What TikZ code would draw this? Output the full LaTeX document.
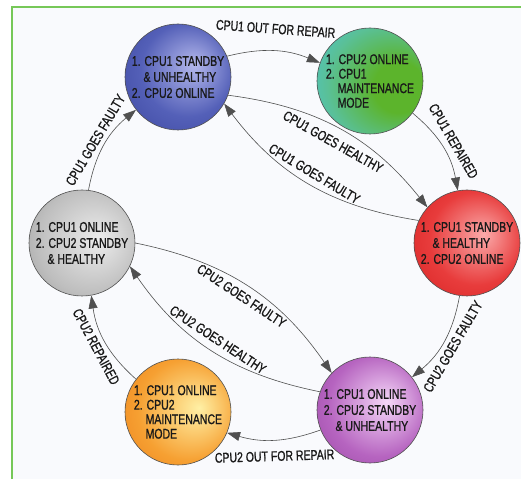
\documentclass[tikz,border=0pt]{standalone}
\usepackage{fontspec}
\setmainfont{Liberation Sans}[FakeStretch=0.75,FakeBold=1]
\usetikzlibrary{arrows.meta,shadings}

\definecolor{framegreen}{RGB}{118,200,88}
\definecolor{paper}{RGB}{249,250,253}
\definecolor{edgegray}{RGB}{80,80,80}
\definecolor{bluein}{RGB}{180,184,236}
\definecolor{bluemid}{RGB}{84,96,184}
\definecolor{blueout}{RGB}{46,56,146}
\definecolor{tealin}{RGB}{92,180,44}
\definecolor{tealmid}{RGB}{90,192,150}
\definecolor{tealout}{RGB}{70,198,232}
\definecolor{redin}{RGB}{250,170,170}
\definecolor{redmid}{RGB}{232,60,60}
\definecolor{redout}{RGB}{205,18,18}
\definecolor{purplein}{RGB}{245,215,248}
\definecolor{purplemid}{RGB}{182,100,192}
\definecolor{purpleout}{RGB}{135,52,146}
\definecolor{orangein}{RGB}{255,240,165}
\definecolor{orangemid}{RGB}{246,160,50}
\definecolor{orangeout}{RGB}{232,110,15}
\definecolor{grayin}{RGB}{236,236,236}
\definecolor{graymid}{RGB}{190,190,190}
\definecolor{grayout}{RGB}{128,128,128}

\pgfdeclareradialshading{blueball}{\pgfpoint{8bp}{6bp}}{color(0bp)=(bluein); color(22bp)=(bluemid); color(50bp)=(blueout)}
\pgfdeclareradialshading{tealball}{\pgfpoint{18bp}{-4bp}}{color(0bp)=(tealin); color(12bp)=(tealin); color(28bp)=(tealmid); color(44bp)=(tealout); color(50bp)=(tealout)}
\pgfdeclareradialshading{redball}{\pgfpoint{8bp}{4bp}}{color(0bp)=(redin); color(22bp)=(redmid); color(50bp)=(redout)}
\pgfdeclareradialshading{purpleball}{\pgfpoint{8bp}{4bp}}{color(0bp)=(purplein); color(24bp)=(purplemid); color(50bp)=(purpleout)}
\pgfdeclareradialshading{orangeball}{\pgfpoint{10bp}{2bp}}{color(0bp)=(orangein); color(24bp)=(orangemid); color(50bp)=(orangeout)}
\pgfdeclareradialshading{grayball}{\pgfpoint{8bp}{2bp}}{color(0bp)=(grayin); color(25bp)=(graymid); color(50bp)=(grayout)}

\newcommand{\indnt}{\phantom{2.~}}

\tikzset{
  state/.style={circle, draw=edgegray, line width=0.6pt, shade, minimum size=106pt,
    inner sep=0pt, align=left, text=black!90, font=\fontsize{14}{16}\selectfont},
  trans/.style={draw=edgegray, line width=0.6pt, -{Triangle[length=13pt,width=9pt]}},
  tlabel/.style={font=\fontsize{14}{15}\selectfont, sloped, inner sep=2pt, text=black!90}
}

\begin{document}
\begin{tikzpicture}[x=1pt, y=1pt]
  \useasboundingbox (0,0) rectangle (521,479);
  \fill[white] (0,0) rectangle (521,479);
  \fill[paper] (12,0) rectangle (521,472);
  \draw[framegreen, line width=1.5pt] (12,0) -- (12,472) -- (521,472);

  % states
  \node[state, shading=blueball] (unh1) at (178,402)
    {1. CPU1 STANDBY\\\indnt\& UNHEALTHY\\2. CPU2 ONLINE};
  \node[state, shading=tealball, font=\fontsize{14}{14.5}\selectfont] (maint1) at (370,398)
    {1. CPU2 ONLINE\\2. CPU1\\\indnt MAINTENANCE\\\indnt MODE};
  \node[state, shading=redball] (hlth1) at (467,236)
    {1. CPU1 STANDBY\\\indnt\& HEALTHY\\2. CPU2 ONLINE};
  \node[state, shading=purpleball] (unh2) at (370,69)
    {1. CPU1 ONLINE\\2. CPU2 STANDBY\\\indnt\& UNHEALTHY};
  \node[state, shading=orangeball, font=\fontsize{14}{14.5}\selectfont] (maint2) at (178,67)
    {1. CPU1 ONLINE\\2. CPU2\\\indnt MAINTENANCE\\\indnt MODE};
  \node[state, shading=grayball] (hlth2) at (82,236)
    {1. CPU1 ONLINE\\2. CPU2 STANDBY\\\indnt\& HEALTHY};

  % transitions
  \draw[trans] (unh1.23) to[bend left=18] node[tlabel, above=15pt] {CPU1 OUT FOR REPAIR} (maint1.160);
  \draw[trans] (maint1.-37) to[bend left=20] node[tlabel, above=5pt] {CPU1 REPAIRED} (hlth1.100);
  \draw[trans] (unh1.-20) to[bend left=22] node[tlabel, below=7pt] {CPU1 GOES HEALTHY} (hlth1.138);
  \draw[trans] (hlth1.155) to[bend left=22] node[tlabel, above=4pt] {CPU1 GOES FAULTY} (unh1.-30);
  \draw[trans] (hlth2.83) to[bend left=20] node[tlabel, above=3pt] {CPU1 GOES FAULTY} (unh1.218);
  \draw[trans] (hlth2.0) to[bend left=22] node[tlabel, below=4pt] {CPU2 GOES FAULTY} (unh2.136);
  \draw[trans] (unh2.160) to[bend left=22] node[tlabel, above=5pt] {CPU2 GOES HEALTHY} (hlth2.-26);
  \draw[trans] (hlth1.262) to[bend left=20] node[tlabel, below=3pt] {CPU2 GOES FAULTY} (unh2.38);
  \draw[trans] (unh2.202) to[bend left=18] node[tlabel, below=9pt] {CPU2 OUT FOR REPAIR} (maint2.-23);
  \draw[trans] (maint2.142) to[bend left=20] node[tlabel, below=3pt] {CPU2 REPAIRED} (hlth2.-80);
\end{tikzpicture}
\end{document}
